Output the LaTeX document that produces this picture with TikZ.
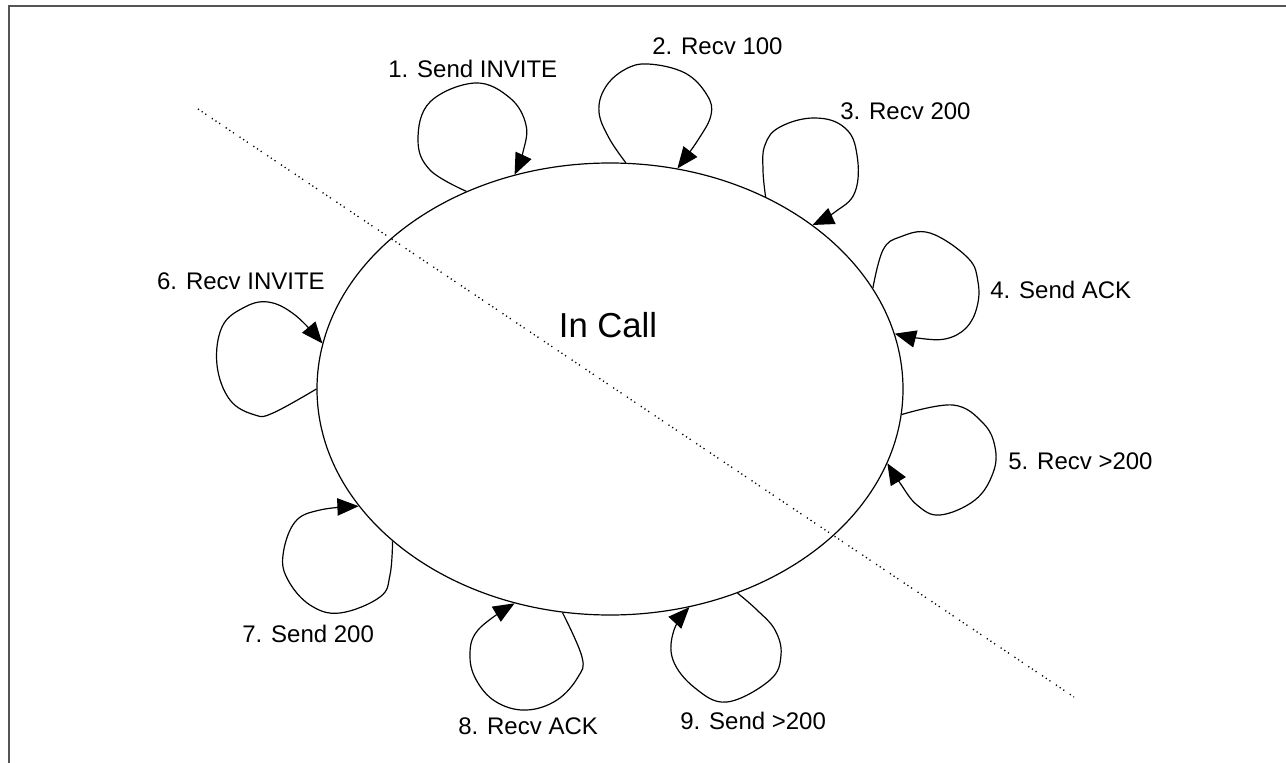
\documentclass[tikz,border=0pt]{standalone}
\usepackage{fontspec}
\setmainfont{Liberation Sans}
\usetikzlibrary{arrows.meta,shapes.geometric}

\begin{document}
\begin{tikzpicture}[x=0.75pt,y=-0.75pt,
  state/.style={draw,ellipse,line width=0.9pt,inner sep=0pt,
    minimum width=439.5pt,minimum height=339pt},
  selfloop/.style={draw,line width=0.9pt,
    -{Triangle[length=16pt,width=13pt]}},
  lbl/.style={inner sep=0pt,font=\fontsize{18}{20}\selectfont},
  title/.style={inner sep=0pt,font=\fontsize{26}{30}\selectfont},
  frameline/.style={draw={rgb,255:red,85;green,85;blue,85},line width=1.2pt},
  divider/.style={draw,line width=1pt,
    dash pattern=on 0.9pt off 2.4pt on 0.9pt off 2.4pt on 0.9pt off 5pt}]

\useasboundingbox (0,0) rectangle (1286,763);

% open frame: top and left edges only
\coordinate (fl) at (9,6);
\coordinate (ftr) at (1286,6);
\coordinate (fbl) at (9,763);
\path[frameline] (fbl) -- (fl) -- (ftr);

% dotted divider across the state
\coordinate (da) at (198,109);
\coordinate (db) at (1074,697);
\path[divider] (da) -- (db);

% the state
\node[state] (call) at (610,389) {};
\node[title] (tcall) at (608,325) {In Call};

% self transitions
\path[selfloop] plot[smooth,tension=0.65] coordinates {(call.126.4) (430,170) (418,140) (430,102) (475,83) (510,98) (526,125) (523,152) (call.114.6)};
\path[selfloop] plot[smooth,tension=0.65] coordinates {(call.86.7) (609,138) (599,112) (605,88) (624,70) (648,64) (685,73) (707,95) (711,115) (698,140) (call.73.1)};
\path[selfloop] plot[smooth,tension=0.7] coordinates {(call.51.3) (763,170) (765,145) (780,127) (815,118) (845,128) (857,155) (855,192) (835,212) (call.39.6)};
\path[selfloop] plot[smooth,tension=0.65] coordinates {(call.21.8) (883,250) (900,237) (930,233) (968,258) (978,282) (977,307) (966,328) (945,339) (917,338) (call.11.4)};
\path[selfloop] plot[smooth,tension=0.65] coordinates {(call.-5.6) (953,405) (983,423) (995,447) (993,473) (975,500) (940,515) (917,505) (900,483) (call.-15.6)};
\path[selfloop] plot[smooth,tension=0.65] coordinates {(call.180.8) (273,413) (255,415) (230,400) (217,365) (222,327) (243,308) (268,302) (295,315) (call.171.0)};
\path[selfloop] plot[smooth,tension=0.65] coordinates {(call.215.8) (390,575) (380,597) (340,613) (310,605) (288,580) (283,555) (295,522) (320,510) (call.205.3)};
\path[selfloop] plot[smooth,tension=0.65] coordinates {(call.258.7) (582,657) (578,677) (557,700) (527,710) (498,703) (478,683) (470,657) (478,630) (call.246.0)};
\path[selfloop] plot[smooth,tension=0.65] coordinates {(call.302.1) (757,610) (775,630) (781,655) (770,680) (727,702) (695,688) (673,660) (674,630) (call.290.1)};

% transition labels
\node[lbl,anchor=west] (l1) at (388,69) {1. Send INVITE};
\node[lbl,anchor=west] (l2) at (652,46) {2. Recv 100};
\node[lbl,anchor=west] (l3) at (840,111) {3. Recv 200};
\node[lbl,anchor=west] (l4) at (990,290) {4. Send ACK};
\node[lbl,anchor=west] (l5) at (1008,461) {5. Recv >200};
\node[lbl,anchor=east] (l6) at (325,281) {6. Recv INVITE};
\node[lbl,anchor=west] (l7) at (242,634) {7. Send 200};
\node[lbl,anchor=west] (l8) at (458,726) {8. Recv ACK};
\node[lbl,anchor=west] (l9) at (680,721) {9. Send >200};
\end{tikzpicture}
\end{document}
